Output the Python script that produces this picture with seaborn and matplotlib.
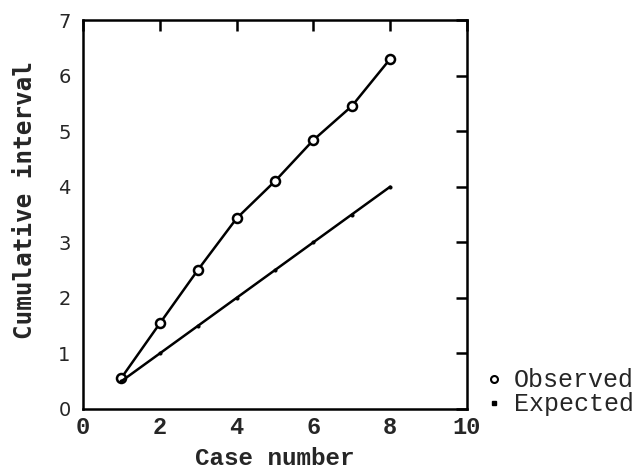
import matplotlib
matplotlib.use("Agg")
import matplotlib.pyplot as plt
from matplotlib.lines import Line2D
import seaborn as sns
import pandas as pd

# Cumulative interval by case number
case_number = [1, 2, 3, 4, 5, 6, 7, 8]
observed = [0.56, 1.54, 2.51, 3.43, 4.10, 4.84, 5.45, 6.30]
expected = [0.5, 1.0, 1.5, 2.0, 2.5, 3.0, 3.5, 4.0]
x_ticks = [0, 2, 4, 6, 8, 10]
y_ticks = [0, 1, 2, 3, 4, 5, 6, 7]

df_obs = pd.DataFrame({"case": case_number, "value": observed})
df_exp = pd.DataFrame({"case": case_number, "value": expected})

sns.set_style("white")
mono = ["Liberation Mono", "DejaVu Sans Mono"]

fig = plt.figure(figsize=(6.41, 4.72), dpi=100)
ax = fig.add_axes([0.1295, 0.1335, 0.599, 0.8241])

sns.lineplot(data=df_obs, x="case", y="value", ax=ax, color="black",
             linewidth=1.8, marker="o", markersize=6.5,
             markerfacecolor="white", markeredgecolor="black",
             markeredgewidth=1.8)
sns.lineplot(data=df_exp, x="case", y="value", ax=ax, color="black",
             linewidth=1.8, marker="o", markersize=2.2,
             markerfacecolor="black", markeredgecolor="black")

ax.set_xlim(0, 10)
ax.set_ylim(0, 7)
ax.set_xticks(x_ticks)
ax.set_yticks(y_ticks)
ax.set_xticklabels([str(v) for v in x_ticks], family=mono, fontsize=17,
                   fontweight="bold")
ax.set_yticklabels([str(v) for v in y_ticks], family=["DejaVu Sans"],
                   fontsize=14)

for s in ax.spines.values():
    s.set_visible(True)
    s.set_color("black")
    s.set_linewidth(1.8)

ax.tick_params(axis="both", which="major", direction="in", length=8,
               width=1.8, top=True, right=True, color="black")
ax.tick_params(axis="x", pad=5)
ax.tick_params(axis="y", pad=9)

ax.set_xlabel("Case number", family=mono, fontsize=17.5, fontweight="bold",
              labelpad=6)
ax.set_ylabel("Cumulative interval", family=["DejaVu Sans Mono"],
              fontsize=17.5, fontweight="bold")
ax.yaxis.set_label_coords(-0.12, 0.537)

handles = [
    Line2D([], [], linestyle="none", marker="o", markersize=5,
           markerfacecolor="white", markeredgecolor="black",
           markeredgewidth=1.5),
    Line2D([], [], linestyle="none", marker="s", markersize=2.5,
           markerfacecolor="black", markeredgecolor="black"),
]
fig.legend(handles, ["Observed", "Expected"], loc="lower left",
           bbox_to_anchor=(0.759, 0.118), frameon=False,
           prop={"family": mono, "size": 18}, handlelength=0.6,
           handletextpad=0.5, labelspacing=0.0, borderpad=0,
           borderaxespad=0)

fig.savefig("out.png", dpi=100)
